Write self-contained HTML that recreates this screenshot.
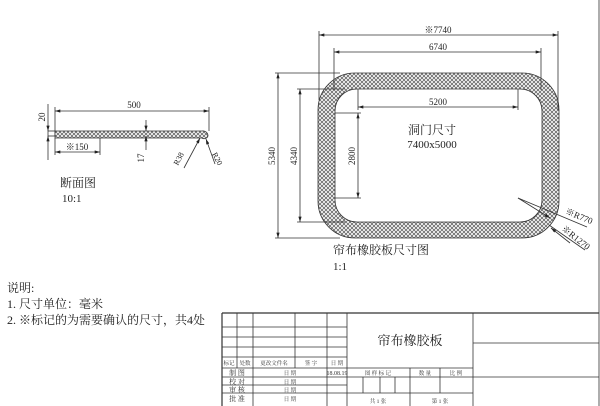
<!DOCTYPE html>
<html><head><meta charset="utf-8"><style>
body{margin:0;background:#fff;}
svg{display:block;font-family:"Liberation Serif","Noto Serif CJK SC",serif;}
</style></head><body>
<svg width="600" height="406" viewBox="0 0 600 406" xmlns="http://www.w3.org/2000/svg">
<defs>
<pattern id="h" width="4" height="4" patternUnits="userSpaceOnUse">
<rect width="4" height="4" fill="#fff"/>
<path d="M0,0L4,4M4,0L0,4" stroke="#666" stroke-width="0.8"/>
</pattern>
<marker id="a" viewBox="0 0 10 6" refX="10" refY="3" markerWidth="7" markerHeight="4" orient="auto-start-reverse"><path d="M0,0L10,3L0,6z" fill="#222"/></marker>
</defs>
<g stroke="#333" stroke-width="0.8" fill="none">
<path d="M355,73H522A37,37 0 0 1 559,110V201A37,37 0 0 1 522,238H355A37,37 0 0 1 318,201V110A37,37 0 0 1 355,73Z M357,89H520A22,22 0 0 1 542,111V200A22,22 0 0 1 520,222H357A22,22 0 0 1 335,200V111A22,22 0 0 1 357,89Z" fill="url(#h)" fill-rule="evenodd"/>
<line x1="319" y1="35" x2="558" y2="35" marker-start="url(#a)" marker-end="url(#a)"/>
<line x1="319" y1="31" x2="319" y2="100"/><line x1="558" y1="31" x2="558" y2="110"/>
<line x1="334" y1="52" x2="541" y2="52" marker-start="url(#a)" marker-end="url(#a)"/>
<line x1="334" y1="48" x2="334" y2="90"/><line x1="541" y1="48" x2="541" y2="90"/>
<line x1="358" y1="107" x2="518" y2="107" marker-start="url(#a)" marker-end="url(#a)"/>
<line x1="358" y1="89" x2="358" y2="110"/><line x1="518" y1="89" x2="518" y2="110"/>
<line x1="278" y1="73" x2="278" y2="238" marker-start="url(#a)" marker-end="url(#a)"/>
<line x1="275" y1="73" x2="340" y2="73"/><line x1="275" y1="238" x2="340" y2="238"/>
<line x1="300" y1="89" x2="300" y2="222" marker-start="url(#a)" marker-end="url(#a)"/>
<line x1="297" y1="89" x2="345" y2="89"/><line x1="297" y1="222" x2="345" y2="222"/>
<line x1="358" y1="113" x2="358" y2="198" marker-start="url(#a)" marker-end="url(#a)"/>
<line x1="335" y1="113" x2="361" y2="113"/><line x1="335" y1="198" x2="361" y2="198"/>
<line x1="518" y1="198" x2="587" y2="227"/><line x1="518" y1="198" x2="550" y2="218" marker-end="url(#a)"/>
<line x1="549" y1="225" x2="585" y2="250"/>
<line x1="570" y1="243" x2="551" y2="228" marker-end="url(#a)"/>
<rect x="48" y="131" width="7" height="5"/>
<path d="M55,131H202A5,5 0 0 1 208,136A4,4 0 0 1 202,138H55Z" fill="url(#h)"/>
<line x1="55" y1="111" x2="209" y2="111" marker-start="url(#a)" marker-end="url(#a)"/>
<line x1="55" y1="107" x2="55" y2="131"/><line x1="209" y1="107" x2="209" y2="131"/>
<line x1="48" y1="104" x2="48" y2="131" marker-end="url(#a)"/><line x1="48" y1="160" x2="48" y2="136" marker-end="url(#a)"/>
<line x1="55" y1="152" x2="100" y2="152" marker-start="url(#a)" marker-end="url(#a)"/>
<line x1="55" y1="138" x2="55" y2="155"/><line x1="100" y1="138" x2="100" y2="155"/>
<line x1="146" y1="120" x2="146" y2="131" marker-end="url(#a)"/><line x1="146" y1="150" x2="146" y2="136" marker-end="url(#a)"/>
<line x1="184" y1="168" x2="200" y2="138" marker-end="url(#a)"/>
<line x1="215" y1="164" x2="206" y2="139" marker-end="url(#a)"/>
<line x1="222" y1="313" x2="599" y2="313" stroke-width="1.2"/>
<line x1="222" y1="313" x2="222" y2="406" stroke-width="1.2"/>
<line x1="599" y1="0" x2="599" y2="406"/>
<line x1="222" y1="327" x2="347" y2="327"/><line x1="222" y1="337" x2="347" y2="337"/>
<line x1="222" y1="347" x2="347" y2="347"/><line x1="222" y1="357" x2="347" y2="357"/>
<line x1="222" y1="368" x2="473" y2="368"/><line x1="222" y1="377" x2="473" y2="377"/>
<line x1="222" y1="385" x2="347" y2="385"/><line x1="222" y1="393" x2="473" y2="393"/>
<line x1="473" y1="343" x2="599" y2="343"/><line x1="473" y1="377" x2="599" y2="377"/>
<line x1="237" y1="313" x2="237" y2="368"/><line x1="253" y1="313" x2="253" y2="406"/>
<line x1="295" y1="313" x2="295" y2="368"/><line x1="327" y1="313" x2="327" y2="406"/>
<line x1="347" y1="313" x2="347" y2="406"/><line x1="473" y1="313" x2="473" y2="406"/>
<line x1="410" y1="368" x2="410" y2="406"/><line x1="440" y1="368" x2="440" y2="393"/>
<line x1="363" y1="377" x2="363" y2="393"/><line x1="380" y1="377" x2="380" y2="393"/><line x1="395" y1="377" x2="395" y2="393"/>
</g>
<g fill="#222" font-size="9" text-anchor="middle">
<text x="438" y="33">※7740</text><text x="438" y="50">6740</text><text x="438" y="105">5200</text>
<text transform="translate(275,156) rotate(-90)">5340</text>
<text transform="translate(297,156) rotate(-90)">4340</text>
<text transform="translate(355,156) rotate(-90)">2800</text>
<text transform="translate(578,219) rotate(22)">※R770</text>
<text transform="translate(574,240) rotate(38)">※R1270</text>
<text x="134" y="108">500</text>
<text transform="translate(45,117) rotate(-90)">20</text>
<text x="77" y="150">※150</text>
<text transform="translate(144,158) rotate(-90)">17</text>
<text transform="translate(181,160) rotate(-62)" font-size="8">R38</text>
<text transform="translate(215,160) rotate(62)" font-size="8">R20</text>
</g>
<g fill="#222" font-size="11">
<text x="432" y="134" text-anchor="middle" font-size="12">洞门尺寸</text>
<text x="432" y="148" text-anchor="middle">7400x5000</text>
<text x="333" y="254" font-size="12">帘布橡胶板尺寸图</text><text x="333" y="270">1:1</text>
<text x="60" y="187" font-size="12">断面图</text><text x="62" y="202">10:1</text>
<text x="7" y="292" font-size="12">说明:</text>
<text x="7" y="308" font-size="12">1. 尺寸单位：毫米</text>
<text x="7" y="324" font-size="12">2. ※标记的为需要确认的尺寸，共4处</text>
<text x="410" y="345" font-size="13" text-anchor="middle">帘布橡胶板</text>
</g>
<g fill="#333" font-size="5.5" text-anchor="middle">
<text x="229" y="365">标记</text><text x="245" y="365">处数</text><text x="274" y="365">更改文件名</text><text x="311" y="365">签 字</text><text x="337" y="365">日 期</text>
<text x="237" y="375" font-size="7">制 图</text><text x="290" y="375">日 期</text><text x="337" y="375" font-size="6">18.08.19</text>
<text x="237" y="384" font-size="7">校 对</text><text x="290" y="384">日 期</text>
<text x="237" y="392" font-size="7">审 核</text><text x="290" y="392">日 期</text>
<text x="237" y="401" font-size="7">批 准</text><text x="290" y="401">日 期</text>
<text x="378" y="375">图 样 标 记</text><text x="425" y="375">数 量</text><text x="456" y="375">比 例</text>
<text x="378" y="403">共 1 张</text><text x="440" y="403">第 1 张</text>
</g>
</svg>
</body></html>
